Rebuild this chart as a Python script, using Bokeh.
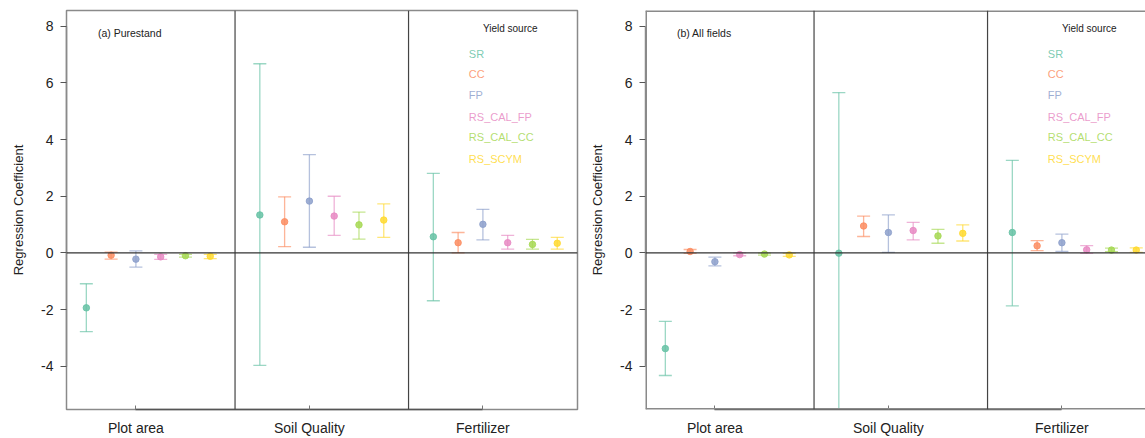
from bokeh.plotting import figure
from bokeh.models import (ColumnDataSource, Whisker, TeeHead, Span, FixedTicker,
                          Range1d, Label)
from bokeh.layouts import row
from bokeh.embed import file_html
from bokeh.resources import INLINE

categories = ["Plot area", "Soil Quality", "Fertilizer"]
sources = ["SR", "CC", "FP", "RS_CAL_FP", "RS_CAL_CC", "RS_SCYM"]
colors = ["#66c2a5", "#fc8d62", "#8da0cb", "#e78ac3", "#a6d854", "#ffd92f"]
y_ticks = [-4, -2, 0, 2, 4, 6, 8]
y_tick_labels = ["-4", "-2", "0", "2", "4", "6", "8"]

# (a) Purestand: estimates, lower and upper bounds per source across categories
a_est = [[-1.94, 1.34, 0.57], [-0.08, 1.10, 0.36], [-0.22, 1.83, 1.01],
         [-0.14, 1.30, 0.36], [-0.10, 0.99, 0.30], [-0.12, 1.16, 0.34]]
a_lo = [[-2.78, -3.97, -1.69], [-0.22, 0.22, 0.00], [-0.50, 0.20, 0.46],
        [-0.23, 0.62, 0.13], [-0.15, 0.49, 0.13], [-0.20, 0.55, 0.13]]
a_hi = [[-1.09, 6.68, 2.81], [0.03, 1.98, 0.72], [0.07, 3.47, 1.54],
        [-0.05, 2.00, 0.62], [-0.05, 1.44, 0.48], [-0.05, 1.73, 0.55]]

# (b) All fields
b_est = [[-3.38, -0.01, 0.72], [0.05, 0.95, 0.25], [-0.31, 0.72, 0.36],
         [-0.06, 0.79, 0.11], [-0.04, 0.60, 0.10], [-0.07, 0.69, 0.10]]
b_lo = [[-4.33, -5.70, -1.87], [-0.02, 0.58, 0.08], [-0.46, 0.02, 0.05],
        [-0.10, 0.46, -0.02], [-0.08, 0.34, 0.04], [-0.12, 0.42, 0.02]]
b_hi = [[-2.42, 5.66, 3.27], [0.12, 1.30, 0.43], [-0.15, 1.34, 0.66],
        [0.00, 1.08, 0.26], [-0.01, 0.83, 0.17], [-0.02, 0.99, 0.18]]

FONT = "Liberation Sans"
FRAME = "#8a8a8a"


def make_panel(est, lo, hi, title, x_end, width, border_left, border_right, frame_right):
    p = figure(width=width, height=438, output_backend="svg", toolbar_location=None,
               x_range=Range1d(0.6, x_end), y_range=Range1d(-5.53, 8.56),
               min_border_left=border_left, min_border_right=border_right,
               min_border_top=10, min_border_bottom=28)
    p.background_fill_color = "white"
    p.border_fill_color = "white"
    p.grid.visible = False
    if frame_right:
        p.outline_line_color = FRAME
        p.outline_line_width = 1.5
    else:
        p.outline_line_color = None
        for loc, dim in [(-5.53, "width"), (8.56, "width"), (0.6, "height")]:
            p.add_layout(Span(location=loc, dimension=dim, line_color=FRAME,
                              line_width=3))

    # separators and zero line
    for k in range(1, len(categories)):
        p.add_layout(Span(location=k + 4 / 7, dimension="height",
                          line_color="#444444", line_width=1.2))
    p.add_layout(Span(location=0, dimension="width", line_color="#333333",
                      line_width=1.2))

    n = len(sources)
    for i in range(n):
        xs = [j + 1 + (i - 2) / 7 for j in range(len(categories))]
        src = ColumnDataSource(dict(x=xs, y=est[i], lo=lo[i], hi=hi[i]))
        w = Whisker(source=src, base="x", upper="hi", lower="lo",
                    line_color=colors[i], line_alpha=0.65, line_width=1.3,
                    upper_head=TeeHead(size=13, line_color=colors[i], line_alpha=0.65,
                                       line_width=1.3),
                    lower_head=TeeHead(size=13, line_color=colors[i], line_alpha=0.65,
                                       line_width=1.3))
        p.add_layout(w)
        p.scatter("x", "y", source=src, size=6.5, color=colors[i], alpha=0.85)

    # legend text
    p.add_layout(Label(x=3.0, y=7.93, text="Yield source", text_font=FONT,
                       text_font_size="10px", text_color="#222222",
                       text_baseline="middle"))
    legend_y = [7.04, 6.30, 5.57, 4.79, 4.09, 3.31]
    for i in range(n):
        p.add_layout(Label(x=2.919, y=legend_y[i], text=sources[i], text_font=FONT,
                           text_font_size="11px", text_color=colors[i],
                           text_alpha=0.85, text_baseline="middle"))
    p.add_layout(Label(x=0.781, y=7.75, text=title, text_font=FONT,
                       text_font_size="10.5px", text_color="#222222",
                       text_baseline="middle"))

    # axes
    xa = p.xaxis[0]
    xa.ticker = FixedTicker(ticks=[1, 2, 3])
    xa.major_label_overrides = {1: categories[0], 2: categories[1], 3: categories[2]}
    xa.bounds = (1, 3)
    xa.axis_line_color = "#555555"
    xa.axis_line_width = 1.5
    xa.major_tick_out = 0
    xa.major_tick_in = 4
    xa.major_tick_line_color = "#777777"
    xa.minor_tick_line_color = None
    xa.major_label_text_font = FONT
    xa.major_label_text_font_size = "14px"
    xa.major_label_text_color = "#222222"
    xa.major_label_standoff = 10

    ya = p.yaxis[0]
    ya.ticker = FixedTicker(ticks=y_ticks)
    ya.major_label_overrides = dict(zip(y_ticks, y_tick_labels))
    ya.bounds = (-4, 8)
    ya.axis_line_color = FRAME
    ya.axis_line_width = 1.5
    ya.major_tick_out = 6
    ya.major_tick_in = 0
    ya.major_tick_line_color = "#555555"
    ya.minor_tick_line_color = None
    ya.major_label_text_font = FONT
    ya.major_label_text_font_size = "14px"
    ya.major_label_text_color = "#222222"
    ya.major_label_standoff = 7
    ya.axis_label = "Regression Coefficient"
    ya.axis_label_text_font = FONT
    ya.axis_label_text_font_size = "13px"
    ya.axis_label_text_font_style = "normal"
    ya.axis_label_text_color = "#222222"
    ya.axis_label_standoff = 12
    return p


pa = make_panel(a_est, a_lo, a_hi, "(a) Purestand", 0.6 + 511 / 173.5, 580, 66, 3, True)
pb = make_panel(b_est, b_lo, b_hi, "(b) All fields", 0.6 + 500 / 173.5, 565, 65, 0, False)

layout = row(pa, pb)
open("out.html", "w").write(file_html(layout, INLINE))
